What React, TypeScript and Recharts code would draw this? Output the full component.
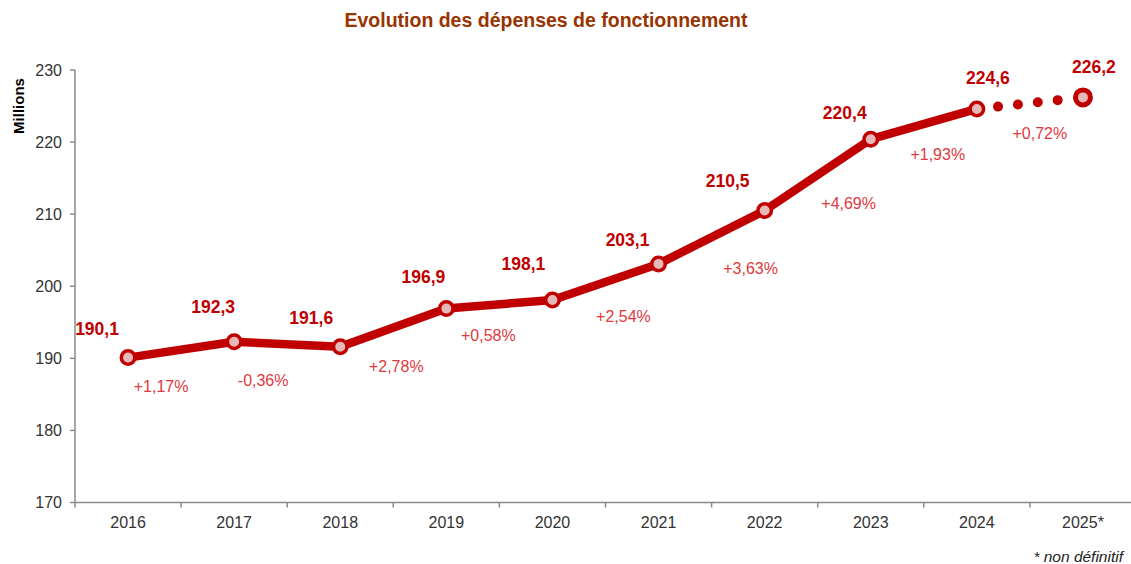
import React from 'react';
import { LineChart, Line, XAxis, YAxis, LabelList } from 'recharts';

const years = ['2016', '2017', '2018', '2019', '2020', '2021', '2022', '2023', '2024', '2025*'];
const amounts = [190.1, 192.3, 191.6, 196.9, 198.1, 203.1, 210.5, 220.4, 224.6, 226.2];
// year-over-year change, shown under each segment
const growthLabels = ['+1,17%', '-0,36%', '+2,78%', '+0,58%', '+2,54%', '+3,63%', '+4,69%', '+1,93%', '+0,72%'];
const yTicks = [170, 180, 190, 200, 210, 220, 230];
const lastFinalIndex = 8; // 2025 is not final yet -> dotted segment

// label nudges (relative to each point), tuned by eye
const valueNudge = [[-31, -29], [-21, -35], [-29, -29], [-23, -32], [-29, -36], [-31, -24], [-37, -30], [-26, -26], [11, -31], [11, -30]];
const growthNudge = [[33, 29], [29, 39], [56, 20], [42, 27], [71, 17], [92, 5], [84, -7], [67, 15], [63, 25]];

const RED = '#C00000';
const FONT = '"Liberation Sans", Arial, Helvetica, sans-serif';
const BAND = 106.1;

const chartData = years.map((year, i) => ({
  year,
  value: amounts[i],
  solid: i <= lastFinalIndex ? amounts[i] : null,
  provisional: i >= lastFinalIndex ? amounts[i] : null,
}));

const fmt = (v: number) => v.toFixed(1).replace('.', ',');

const XTick = ({ x, y, payload }: any) => (
  <g>
    <line x1={x - BAND / 2} x2={x - BAND / 2} y1={y} y2={y + 5} stroke="#8a8a8a" strokeWidth={1.5} />
    <text x={x} y={y + 25} textAnchor="middle" fontSize={16} fontFamily={FONT} fill="#333">
      {payload.value}
    </text>
  </g>
);

const Marker = ({ cx, cy, index }: any) => {
  if (cx == null || cy == null) return null;
  const provisional = index > lastFinalIndex;
  return (
    <circle
      cx={cx}
      cy={cy}
      r={provisional ? 7.5 : 6.75}
      fill="#E6B9B8"
      stroke={RED}
      strokeWidth={provisional ? 5 : 3.5}
    />
  );
};

const ValueLabel = ({ x, y, index, value }: any) => {
  const [dx, dy] = valueNudge[index] || [0, -30];
  return (
    <text x={x + dx} y={y + dy + 6} textAnchor="middle" fontSize={17.5} fontWeight="bold" fontFamily={FONT} fill={RED}>
      {fmt(value)}
    </text>
  );
};

const GrowthLabel = ({ x, y, index }: any) => {
  if (index >= growthLabels.length) return null;
  const [dx, dy] = growthNudge[index];
  return (
    <text x={x + dx} y={y + dy + 5.5} textAnchor="middle" fontSize={16} fontFamily={FONT} fill="#E0393E">
      {growthLabels[index]}
    </text>
  );
};

export default function App() {
  return (
    <div
      style={{
        position: 'fixed',
        left: 0,
        top: 0,
        width: 1131,
        height: 564,
        overflow: 'hidden',
        background: '#fff',
      }}
    >
      <LineChart width={1140} height={564} data={chartData} margin={{ top: 70, right: 4, bottom: 31.5, left: 0 }}>
        <XAxis
          dataKey="year"
          interval={0}
          padding={{ left: BAND / 2, right: BAND / 2 }}
          tickLine={false}
          tickSize={0}
          tickMargin={0}
          axisLine={{ stroke: '#8a8a8a', strokeWidth: 1.5 }}
          tick={<XTick />}
        />
        <YAxis
          domain={[170, 230]}
          ticks={yTicks}
          width={75}
          tickSize={5}
          tickMargin={8}
          axisLine={{ stroke: '#8a8a8a', strokeWidth: 1.5 }}
          tickLine={{ stroke: '#8a8a8a', strokeWidth: 1.5 }}
          tick={{ fill: '#333', fontSize: 16, fontFamily: FONT }}
        />

        {/* definitive years */}
        <Line
          dataKey="solid"
          stroke={RED}
          strokeWidth={8.5}
          strokeLinejoin="round"
          dot={false}
          activeDot={false}
          isAnimationActive={false}
        />

        {/* provisional year, dotted */}
        <Line
          dataKey="provisional"
          stroke={RED}
          strokeWidth={10}
          strokeDasharray="0 20 0 20 0 20 0 20 0 200"
          strokeDashoffset={-1.3}
          strokeLinecap="round"
          dot={false}
          activeDot={false}
          isAnimationActive={false}
        />

        {/* markers + labels */}
        <Line
          dataKey="value"
          stroke="none"
          dot={<Marker />}
          activeDot={false}
          isAnimationActive={false}
        >
          <LabelList dataKey="value" content={<ValueLabel />} />
          <LabelList dataKey="value" content={<GrowthLabel />} />
        </Line>
      </LineChart>

      <svg width={1131} height={564} style={{ position: 'absolute', left: 0, top: 0, pointerEvents: 'none' }}>
        <text x={546} y={26.7} textAnchor="middle" fontSize={19.5} fontWeight="bold" fontFamily={FONT} fill="#993300">
          Evolution des dépenses de fonctionnement
        </text>
        <text
          transform="translate(24,106) rotate(-90)"
          textAnchor="middle"
          fontSize={15}
          fontWeight="bold"
          fontFamily={FONT}
          fill="#000"
        >
          Millions
        </text>
        <text x={1123} y={562} textAnchor="end" fontSize={15.5} fontStyle="italic" fontFamily={FONT} fill="#222">
          * non définitif
        </text>
      </svg>
    </div>
  );
}
